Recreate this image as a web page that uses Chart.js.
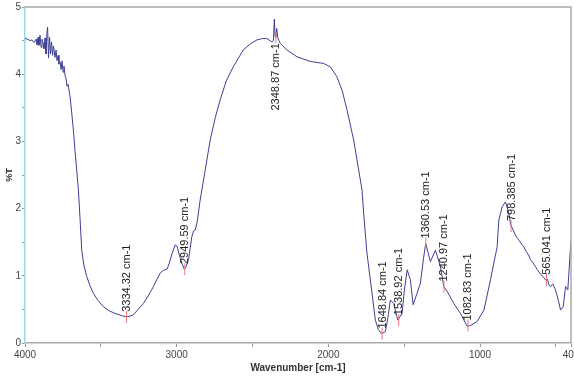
<!DOCTYPE html>
<html>
<head>
<meta charset="utf-8">
<script src="https://cdn.jsdelivr.net/npm/chart.js"></script>
<style>
html, body { margin: 0; padding: 0; background: #fff; }
</style>
</head>
<body>
<canvas id="ir" width="574" height="377"></canvas>
<script>
// spectrum
const wavenumbers = [
  4000, 3980, 3967, 3954, 3941, 3927, 3921, 3914, 3908, 3901, 3894, 3888, 3881, 3875, 3868, 3862,
  3855, 3851, 3845, 3838, 3832, 3825, 3818, 3812, 3802, 3795, 3789, 3782, 3776, 3769, 3762, 3756,
  3749, 3743, 3736, 3729, 3723, 3716, 3703, 3693, 3681, 3670, 3659, 3648, 3637, 3626, 3611, 3593,
  3571, 3549, 3518, 3483, 3446, 3406, 3366, 3334, 3307, 3285, 3254, 3219, 3188, 3153, 3129, 3109,
  3089, 3076, 3063, 3050, 3030, 3010, 2997, 2984, 2966, 2950, 2937, 2922, 2900, 2888, 2878, 2865,
  2845, 2812, 2779, 2746, 2713, 2673, 2627, 2561, 2515, 2471, 2436, 2405, 2372, 2362, 2356, 2351,
  2346, 2340, 2334, 2326, 2317, 2273, 2207, 2119, 2031, 1987, 1943, 1908, 1877, 1833, 1802, 1778,
  1767, 1746, 1723, 1690, 1670, 1650, 1624, 1604, 1591, 1569, 1542, 1514, 1498, 1480, 1459, 1441,
  1415, 1393, 1373, 1358, 1327, 1294, 1261, 1239, 1217, 1173, 1129, 1085, 1063, 1019, 974, 931,
  887, 876, 853, 832, 810, 798, 787, 770, 754, 740, 725, 711, 695, 680, 667, 650,
  635, 622, 600, 585, 568, 555, 545, 535, 520, 502, 482, 469, 451, 436, 421, 403,
  400
];
const transmittance = [
  4.53, 4.52, 4.50, 4.51, 4.47, 4.52, 4.44, 4.55, 4.43, 4.58, 4.40, 4.52, 4.46, 4.38, 4.54, 4.30,
  4.62, 4.70, 4.24, 4.55, 4.30, 4.48, 4.28, 4.42, 4.25, 4.36, 4.20, 4.28, 4.15, 4.18, 4.07, 4.20,
  4.03, 4.12, 3.98, 3.93, 3.82, 3.85, 3.67, 3.45, 3.17, 2.85, 2.57, 2.28, 1.85, 1.38, 1.15, 0.99,
  0.85, 0.74, 0.63, 0.54, 0.48, 0.44, 0.41, 0.39, 0.40, 0.42, 0.50, 0.59, 0.70, 0.84, 0.95, 1.04,
  1.08, 1.09, 1.10, 1.18, 1.33, 1.46, 1.44, 1.32, 1.19, 1.10, 1.14, 1.24, 1.58, 1.67, 1.68, 1.80,
  2.13, 2.57, 3.02, 3.35, 3.62, 3.90, 4.11, 4.36, 4.45, 4.51, 4.53, 4.53, 4.48, 4.50, 4.82, 4.56,
  4.55, 4.68, 4.55, 4.50, 4.46, 4.36, 4.26, 4.19, 4.16, 4.11, 3.96, 3.75, 3.47, 3.02, 2.60, 2.28,
  1.93, 1.35, 0.94, 0.34, 0.20, 0.14, 0.17, 0.42, 0.64, 0.59, 0.34, 0.44, 0.80, 1.09, 0.94, 0.57,
  0.74, 0.89, 1.25, 1.48, 1.21, 1.38, 1.14, 0.84, 0.77, 0.59, 0.44, 0.25, 0.26, 0.32, 0.49, 0.94,
  1.43, 1.83, 2.03, 2.10, 1.93, 1.76, 1.71, 1.62, 1.56, 1.52, 1.47, 1.43, 1.36, 1.31, 1.24, 1.19,
  1.14, 1.09, 1.02, 0.99, 0.94, 0.95, 0.86, 0.84, 0.88, 0.79, 0.62, 0.49, 0.54, 0.84, 0.79, 1.43,
  1.53
];

// picked peaks
const peakWavenumbers = [3334.32, 2949.59, 2348.87, 1648.84, 1538.92, 1360.53, 1240.97, 1082.83, 798.385, 565.041];
const peakLevels = [0.39, 1.10, 4.55, 0.14, 0.34, 1.48, 0.84, 0.26, 1.74, 0.94];
const peakLabels = ['3334.32 cm-1', '2949.59 cm-1', '2348.87 cm-1', '1648.84 cm-1', '1538.92 cm-1',
  '1360.53 cm-1', '1240.97 cm-1', '1082.83 cm-1', '798.385 cm-1', '565.041 cm-1'];
const peakBelow = [false, false, true, false, false, false, false, false, false, false];

const xTicks = [4000, 3500, 3000, 2500, 2000, 1500, 1000, 500, 400];
const xTickLabels = [4000, 3000, 2000, 1000, 400];

const points = wavenumbers.map((w, i) => ({ x: w, y: transmittance[i] }));

// red markers + rotated peak texts
const peakPlugin = {
  id: 'peaks',
  afterDatasetsDraw(chart) {
    const ctx = chart.ctx;
    const xs = chart.scales.x, ys = chart.scales.y;
    ctx.save();
    ctx.font = '11px "Liberation Sans", Arial, sans-serif';
    ctx.textBaseline = 'middle';
    peakWavenumbers.forEach((w, i) => {
      const px = xs.getPixelForValue(w);
      const py = ys.getPixelForValue(peakLevels[i]);
      ctx.strokeStyle = '#e87878';
      ctx.lineWidth = 1;
      ctx.beginPath();
      ctx.moveTo(px + 0.5, py - 6);
      ctx.lineTo(px + 0.5, py + 6);
      ctx.stroke();
      ctx.save();
      ctx.translate(px + 1, py);
      ctx.rotate(-Math.PI / 2);
      ctx.fillStyle = '#222';
      if (peakBelow[i]) {
        ctx.textAlign = 'right';
        ctx.fillText(peakLabels[i], -6, 0);
      } else {
        ctx.textAlign = 'left';
        ctx.fillText(peakLabels[i], 5, 0);
      }
      ctx.restore();
    });
    ctx.restore();
  }
};

// top and right frame lines
const framePlugin = {
  id: 'frame',
  afterDraw(chart) {
    const a = chart.chartArea, ctx = chart.ctx;
    ctx.save();
    ctx.strokeStyle = '#aaa';
    ctx.lineWidth = 1.5;
    ctx.beginPath();
    ctx.moveTo(a.left, a.top);
    ctx.lineTo(a.right, a.top);
    ctx.lineTo(a.right, a.bottom);
    ctx.stroke();
    ctx.restore();
  }
};

Chart.defaults.font.family = '"Liberation Sans", Arial, sans-serif';

new Chart(document.getElementById('ir').getContext('2d'), {
  type: 'line',
  data: {
    datasets: [{
      data: points,
      borderColor: '#3f3f94',
      borderWidth: 1,
      pointRadius: 0,
      tension: 0,
      fill: false
    }]
  },
  options: {
    responsive: false,
    animation: false,
    layout: { padding: { top: 7, right: 3, left: 0, bottom: 0 } },
    plugins: { legend: { display: false }, tooltip: { enabled: false } },
    scales: {
      x: {
        type: 'linear',
        reverse: true,
        min: 400,
        max: 4000,
        afterBuildTicks(scale) { scale.ticks = xTicks.map(v => ({ value: v })); },
        afterFit(scale) {
          scale.height = 34;
          // let the "400" label hang off the edge like the original
          scale.paddingRight = 0;
          scale.paddingLeft = 0;
        },
        ticks: {
          autoSkip: false,
          maxRotation: 0,
          padding: 2,
          color: '#444',
          font: { size: 10 },
          callback: v => xTickLabels.includes(v) ? String(v) : ''
        },
        grid: { drawOnChartArea: false, tickLength: 4, color: '#999' },
        border: { color: '#aaa', width: 1.5 },
        title: {
          display: true,
          text: 'Wavenumber [cm-1]',
          color: '#333',
          font: { size: 10, weight: 'bold' },
          padding: { top: 0, bottom: 3 }
        }
      },
      y: {
        min: 0,
        max: 5,
        afterFit(scale) { scale.width = 25; },
        ticks: {
          stepSize: 0.5,
          padding: 1,
          color: '#444',
          font: { size: 10 },
          callback: v => Number.isInteger(v) ? String(v) : ''
        },
        grid: { drawOnChartArea: false, tickLength: 3, color: '#999' },
        border: { color: '#9ad6e6', width: 1.5 },
        title: {
          display: true,
          text: '%T',
          color: '#333',
          font: { size: 9, weight: 'bold' },
          padding: { top: 4, bottom: 0 }
        }
      }
    }
  },
  plugins: [peakPlugin, framePlugin]
});
</script>
</body>
</html>
